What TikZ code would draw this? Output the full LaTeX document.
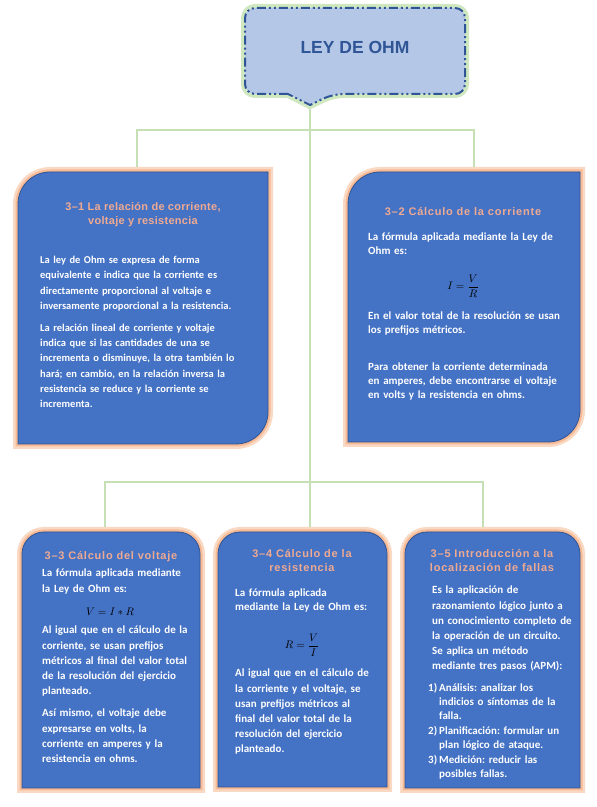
\documentclass[tikz,border=0pt]{standalone}
\usepackage{amsmath}
\usepackage{fontspec}
\setmainfont{Carlito}
\newfontfamily\headfont[LetterSpace=7]{Liberation Sans}
\newfontfamily\headfontn[LetterSpace=2.5]{Liberation Sans}
\newfontfamily\titlefont{Liberation Sans}
\usepackage{tikz}
\usetikzlibrary{calc}
\frenchspacing
\definecolor{cardblue}{HTML}{4472C4}
\definecolor{cardedge}{HTML}{2F5597}
\definecolor{glowlight}{HTML}{FAD9C4}
\definecolor{glowmid}{HTML}{F6BA95}
\definecolor{titlefill}{HTML}{B4C7E7}
\definecolor{titleedge}{HTML}{2F5597}
\definecolor{greenglow}{HTML}{D0E8BF}
\definecolor{linkgreen}{HTML}{C5E0B4}
\definecolor{headcol}{RGB}{240,170,146}
\tikzset{
  link/.style={draw=linkgreen,line width=2.6pt},                 % connector
  card/.style={fill=cardblue,draw=cardedge,line width=0.8pt,
    preaction={draw=glowlight,line width=10pt},
    preaction={draw=glowmid,line width=5pt}},                    % blue card
  titlebox/.style={fill=titlefill,draw=titleedge,line width=2pt,
    dash pattern=on 9pt off 3pt on 2pt off 3pt on 2pt off 3pt,
    preaction={draw=greenglow,solid,line width=8pt}},
  titletext/.style={font=\titlefont\bfseries\fontsize{17.5}{20}\selectfont,text=titleedge,inner sep=0pt},
  head/.style={font=\headfont\bfseries\fontsize{11}{14}\selectfont,text=headcol,align=center,inner sep=0pt,anchor=north},
  body/.style={font=\bfseries\fontsize{11}{15.2}\selectfont,text=white,align=left,inner sep=0pt,anchor=north west},
  tight/.style={font=\bfseries\fontsize{11}{14}\selectfont},
  formula/.style={font=\fontsize{11}{13}\selectfont,text=black,inner sep=0pt},
}
\newcommand{\leafcard}[4]{% x1, y1 (bottom), x2, y2 (top)
  \path[card] (#1,#4-32) arc[start angle=180,end angle=90,radius=32] -- (#3,#4)
    -- (#3,#2+32) arc[start angle=0,end angle=-90,radius=32] -- (#1,#2) -- cycle;
}
\newcommand{\tabcard}[4]{% x1, y1 (bottom), x2, y2 (top)
  \path[card] (#1,#2) -- (#1,#4-22) arc[start angle=180,end angle=90,radius=22]
    -- (#3-22,#4) arc[start angle=90,end angle=0,radius=22] -- (#3,#2) -- cycle;
}
\newcommand{\num}[1]{\makebox[11pt][l]{#1}}

\begin{document}
\begin{tikzpicture}[x=1pt,y=1pt]
  \useasboundingbox (0,0) rectangle (597,807);
  % connector ends
  \coordinate (tip) at (310,702);
  \coordinate (c1-in) at (137,635);
  \coordinate (c2-in) at (474,635);
  \coordinate (c3-in) at (105,275);
  \coordinate (c4-in) at (310,275);
  \coordinate (c5-in) at (483,275);
  \draw[link] (tip) -- (c4-in);
  \draw[link] (c1-in) -- ++(0,42) -| (c2-in);
  \draw[link] (c3-in) -- ++(0,50) -| (c5-in);

  % title
  \path[titlebox] [rounded corners=10] (288,713) -- (245,713) -- (245,799) -- (465,799)
    -- (465,713) -- (333,713) [sharp corners] -- (tip) -- cycle;
  \node[titletext] (title) at (355,760) {LEY DE OHM};

  % cards
  \leafcard{18}{363}{268}{635}
  \leafcard{348}{365}{580}{635}
  \tabcard{22}{19}{200}{275}
  \tabcard{218}{20}{387}{275}
  \tabcard{405}{19}{580}{275}

  % 3-1
  \node[head,font=\headfontn\bfseries\fontsize{11}{14}\selectfont] (h1) at (143,605) {3–1 La relación de corriente,\\voltaje y resistencia};
  \node[body,font=\bfseries\fontsize{10.5}{15.3}\selectfont,text width=225pt] (t1) at (40,551) {La ley de Ohm se expresa de forma\\
    equivalente e indica que la corriente es\\
    directamente proporcional al voltaje e\\
    inversamente proporcional a la resistencia.\\[6.5pt]
    La relación lineal de corriente y voltaje\\
    indica que si las cantidades de una se\\
    incrementa o disminuye, la otra también lo\\
    hará; en cambio, en la relación inversa la\\
    resistencia se reduce y la corriente se\\
    incrementa.};

  % 3-2
  \node[head] (h2) at (463,600) {3–2 Cálculo de la corriente};
  \node[body,tight,text width=205pt] (t2) at (368,574) {La fórmula aplicada mediante la Ley de\\Ohm es:};
  \node[formula] (f2) at (463,521) {$I=\dfrac{V}{R}$};
  \node[body,tight,text width=205pt] (u2) at (368,495) {En el valor total de la resolución se usan\\
    los prefijos métricos.\\[23pt]
    Para obtener la corriente determinada\\
    en amperes, debe encontrarse el voltaje\\
    en volts y la resistencia en ohms.};

  % 3-3
  \node[head] (h3) at (111,256) {3–3 Cálculo del voltaje};
  \node[body,text width=170pt] (t3) at (42,238) {La fórmula aplicada mediante\\la Ley de Ohm es:};
  \node[formula] (f3) at (110,195) {$V=I\ast R$};
  \node[body,text width=170pt] (u3) at (42,181) {Al igual que en el cálculo de la\\
    corriente, se usan prefijos\\
    métricos al final del valor total\\
    de la resolución del ejercicio\\
    planteado.\\[7pt]
    Así mismo, el voltaje debe\\
    expresarse en volts, la\\
    corriente en amperes y la\\
    resistencia en ohms.};

  % 3-4
  \node[head] (h4) at (302,258) {3–4 Cálculo de la\\resistencia};
  \node[body,tight,text width=170pt] (t4) at (235,218) {La fórmula aplicada\\mediante la Ley de Ohm es:};
  \node[formula] (f4) at (302,162) {$R=\dfrac{V}{I}$};
  \node[body,text width=170pt] (u4) at (235,138) {Al igual que en el cálculo de\\
    la corriente y el voltaje, se\\
    usan prefijos métricos al\\
    final del valor total de la\\
    resolución del ejercicio\\
    planteado.};

  % 3-5
  \node[head] (h5) at (492,258) {3–5 Introducción a la\\localización de fallas};
  \node[body,text width=170pt] (t5) at (432,221) {Es la aplicación de\\
    razonamiento lógico junto a\\
    un conocimiento completo de\\
    la operación de un circuito.\\
    Se aplica un método\\
    mediante tres pasos (APM):};
  \node[body,tight,text width=170pt] (l5) at (428,124) {\num{1)}Análisis: analizar los\\
    \hspace*{11pt}indicios o síntomas de la\\
    \hspace*{11pt}falla.\\[1pt]
    \num{2)}Planificación: formular un\\
    \hspace*{11pt}plan lógico de ataque.\\[1pt]
    \num{3)}Medición: reducir las\\
    \hspace*{11pt}posibles fallas.};
\end{tikzpicture}
\end{document}
